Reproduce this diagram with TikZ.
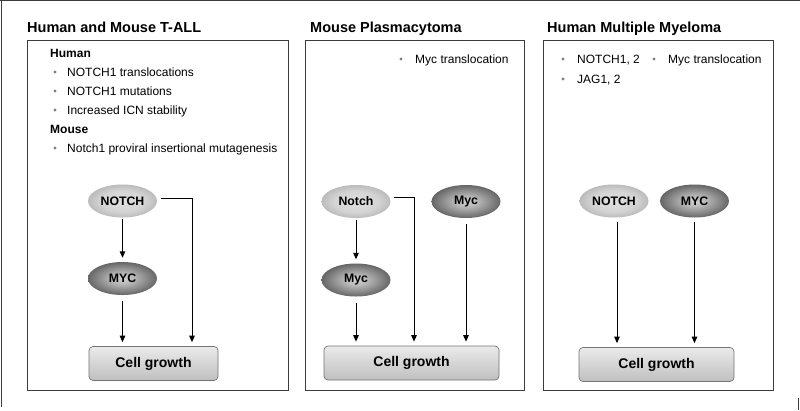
\documentclass[tikz,border=0pt]{standalone}
\usepackage{fontspec}
\setmainfont{Liberation Sans}
\usetikzlibrary{arrows.meta,calc,shapes.geometric}
\definecolor{lightin}{HTML}{E0E0E0}
\definecolor{lightmid}{HTML}{D4D4D4}
\definecolor{lightout}{HTML}{A0A0A0}
\definecolor{darkin}{HTML}{D0D0D0}
\definecolor{darkmid}{HTML}{B8B8B8}
\definecolor{darkout}{HTML}{363636}
\definecolor{framecol}{HTML}{3C3C3C}
\pgfdeclareradialshading{lightball}{\pgfpoint{0bp}{0bp}}{color(0bp)=(lightin); color(16bp)=(lightmid); color(35bp)=(lightout); color(72bp)=(lightout)}
\pgfdeclareradialshading{darkball}{\pgfpoint{0bp}{0bp}}{color(0bp)=(darkin); color(8bp)=(darkmid); color(35bp)=(darkout); color(72bp)=(darkout)}
\tikzset{
  panel/.style={draw=framecol, line width=0.9pt},
  title/.style={anchor=base west, inner sep=0pt, font=\fontsize{14.5}{16}\selectfont\bfseries},
  itemtext/.style={anchor=base west, inner sep=0pt, font=\fontsize{12}{14}\selectfont},
  subhead/.style={anchor=base west, inner sep=0pt, font=\fontsize{12}{14}\selectfont\bfseries},
  bulletdot/.style={fill=gray},
  lightell/.style={ellipse, minimum width=69pt, minimum height=33pt, inner sep=0pt,
     shading=lightball, font=\fontsize{12.3}{14}\selectfont\bfseries},
  darkell/.style={ellipse, minimum width=69pt, minimum height=33pt, inner sep=0pt,
     shading=darkball, font=\fontsize{12.3}{14}\selectfont\bfseries},
  cellbox/.style={rectangle, rounded corners=4pt, draw=black!55, line width=0.7pt,
     top color=black!8, bottom color=black!25, minimum height=34pt, inner sep=0pt,
     font=\fontsize{14}{16}\selectfont\bfseries},
  arr/.style={-{Triangle[length=6.5pt,width=5.5pt]}, line width=1pt, shorten <=2pt, shorten >=4pt},
}
\begin{document}
\begin{tikzpicture}[x=1pt,y=-1pt]
\useasboundingbox (0,0) rectangle (800,410);
\fill[white] (0,0) rectangle (800,410);
% outer frame remnants
\draw[framecol, line width=1pt] (0,0.6) -- (800,0.6);
\draw[framecol, line width=1pt] (1.6,0) -- (1.6,407);
\draw[framecol, line width=1pt] (798.5,398) -- (798.5,410);

% ---------- Panel 1 ----------
\node[title] (t1) at (27,32) {Human and Mouse T-ALL};
\draw[panel] (27,40) rectangle (288,390);
\node[subhead] (h1) at (50,57) {Human};
\fill[bulletdot] (55,72) circle (1.6);
\node[itemtext] (i1) at (67,76) {NOTCH1 translocations};
\fill[bulletdot] (55,91) circle (1.6);
\node[itemtext] (i2) at (67,95) {NOTCH1 mutations};
\fill[bulletdot] (55,110) circle (1.6);
\node[itemtext] (i3) at (67,114) {Increased ICN stability};
\node[subhead] (h2) at (50,133) {Mouse};
\fill[bulletdot] (55,148) circle (1.6);
\node[itemtext] (i4) at (67,152) {Notch1 proviral insertional mutagenesis};

\node[lightell] (n1) at (122.5,201) {NOTCH};
\node[darkell] (m1) at (122.5,278.5) {MYC};
\node[cellbox, minimum width=129pt] (c1) at (153.5,363.5) {Cell growth};
\draw[arr, shorten <=1pt] (n1.south) -- (m1.north);
\draw[arr, shorten <=6pt] (m1.south) -- (m1.south |- c1.north);
\draw[arr, shorten <=0pt] ([shift={(4pt,3pt)}]n1.east) -| ([xshift=38.5pt]c1.north);

% ---------- Panel 2 ----------
\node[title] (t2) at (310,32) {Mouse Plasmacytoma};
\draw[panel] (305,40.5) rectangle (524,390.5);
\fill[bulletdot] (401,59) circle (1.6);
\node[itemtext] (j1) at (415,63) {Myc translocation};

\node[lightell] (n2) at (356,201.5) {Notch};
\node[darkell] (m2a) at (466,201.5) {Myc};
\node[darkell] (m2b) at (356,280) {Myc};
\node[cellbox, minimum width=175pt] (c2) at (411.5,363) {Cell growth};
\draw[arr] (n2.south) -- (m2b.north);
\draw[arr, shorten <=6pt] (m2b.south) -- (m2b.south |- c2.north);
\draw[arr, shorten <=6pt] (m2a.south) -- (m2a.south |- c2.north);
\draw[arr, shorten <=0pt] ([shift={(3pt,4pt)}]n2.east) -| ([xshift=2.5pt]c2.north);

% ---------- Panel 3 ----------
\node[title] (t3) at (547,32) {Human Multiple Myeloma};
\draw[panel] (543,40.5) rectangle (773,390.5);
\fill[bulletdot] (563,59) circle (1.6);
\node[itemtext] (k1) at (577,63) {NOTCH1, 2};
\fill[bulletdot] (654,59) circle (1.6);
\node[itemtext] (k2) at (668,63) {Myc translocation};
\fill[bulletdot] (563,79) circle (1.6);
\node[itemtext] (k3) at (577,83) {JAG1, 2};

\node[lightell] (n3) at (614,201) {NOTCH};
\node[darkell] (m3) at (694.5,201) {MYC};
\node[cellbox, minimum width=155pt] (c3) at (656.5,364.5) {Cell growth};
\draw[arr, shorten <=4pt] ([xshift=3pt]n3.south) -- ([xshift=3pt]n3.south |- c3.north);
\draw[arr, shorten <=4pt] (m3.south) -- (m3.south |- c3.north);
\end{tikzpicture}
\end{document}
